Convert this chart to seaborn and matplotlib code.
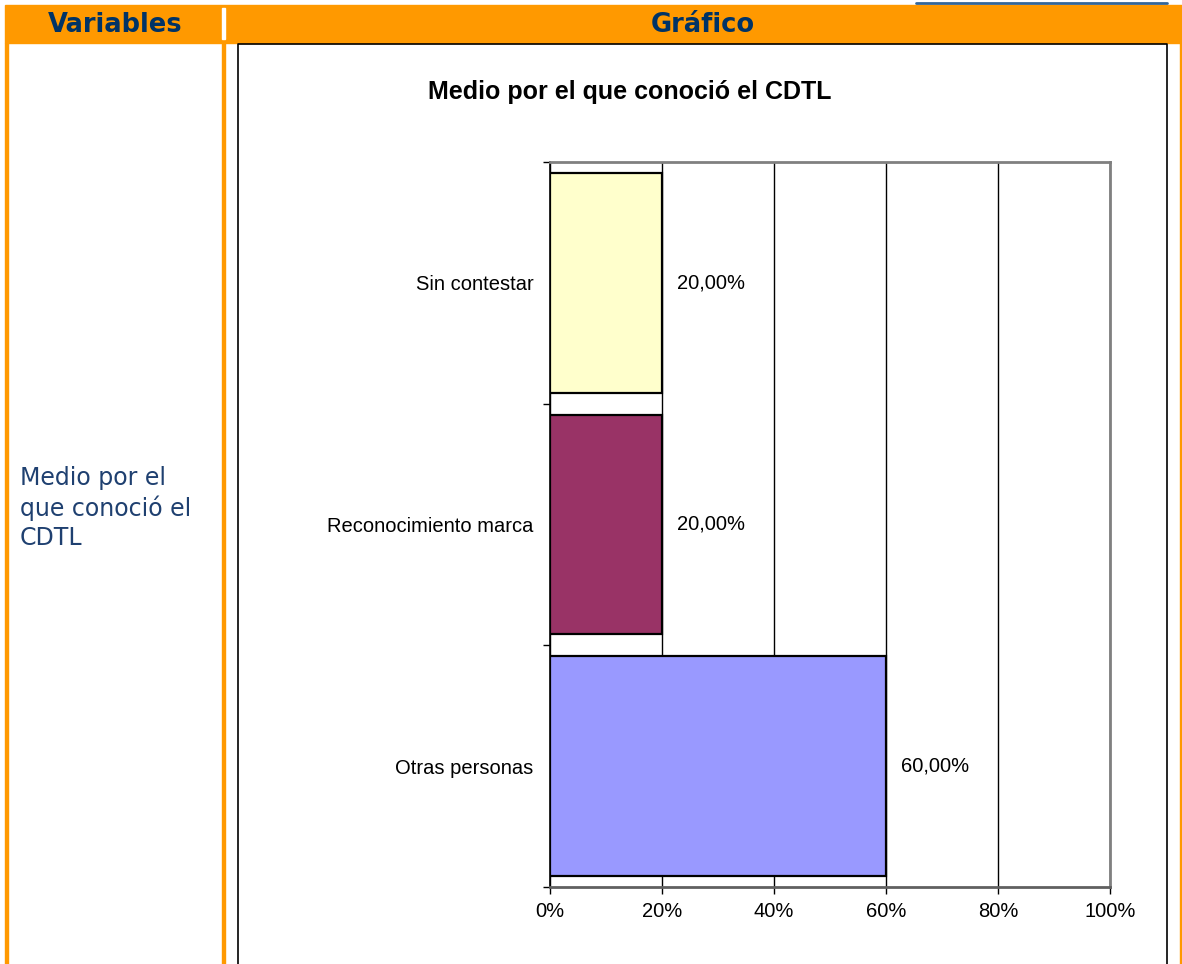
import pandas as pd
import seaborn as sns
import matplotlib.pyplot as plt
from matplotlib.patches import Rectangle
from matplotlib.lines import Line2D

# Datos
categorias = ["Sin contestar", "Reconocimiento marca", "Otras personas"]
valores = [20.0, 20.0, 60.0]
colores = ["#FFFFCC", "#993366", "#9999FF"]
ticks_x = [0, 20, 40, 60, 80, 100]

titulo = "Medio por el que conoció el CDTL"
col_izq = "Variables"
col_der = "Gráfico"
variable = "Medio por el\nque conoció el\nCDTL"

df = pd.DataFrame({"Medio": categorias, "Porcentaje": valores})

sns.set_style("white")
plt.rcParams["font.family"] = ["Liberation Sans", "DejaVu Sans"]
plt.rcParams["text.color"] = "black"
plt.rcParams["xtick.color"] = "black"
plt.rcParams["ytick.color"] = "black"

W, H = 1182, 964
fig = plt.figure(figsize=(W / 100, H / 100), dpi=100, facecolor="white")


def fx(px):
    return px / W


def fy(py):
    return 1 - py / H


# Marco tipo tabla
naranja = "#FF9900"
azul = "#003366"
fig.patches.append(Rectangle((fx(5), fy(43)), fx(1182 - 5), 38 / H,
                             transform=fig.transFigure, color=naranja, zorder=0))
fig.patches.append(Rectangle((fx(222), fy(39)), fx(2.5), 31 / H,
                             transform=fig.transFigure, color="white", zorder=1))
for x0 in (5, 222, 1180):
    fig.patches.append(Rectangle((fx(x0), 0), fx(3), fy(43),
                                 transform=fig.transFigure, color=naranja, zorder=0))
fig.lines.append(Line2D([fx(916), fx(1167)], [fy(3), fy(3)], transform=fig.transFigure,
                        color="#336699", lw=2))
fig.lines.append(Line2D([fx(238), fx(238), fx(1167), fx(1167)], [0, fy(44), fy(44), 0],
                        transform=fig.transFigure, color="black", lw=1.2))

fig.text(fx(115), fy(25), col_izq, ha="center", va="center", fontsize=18.5,
         fontweight="bold", color=azul, family="DejaVu Sans")
fig.text(fx(703), fy(25), col_der, ha="center", va="center", fontsize=18.5,
         fontweight="bold", color=azul, family="DejaVu Sans")
fig.text(fx(20), fy(508), variable, ha="left", va="center", fontsize=17,
         color="#1F4070", family="DejaVu Sans", linespacing=1.25)

fig.text(fx(630), fy(92), titulo, ha="center", va="center", fontsize=18,
         fontweight="bold", color="black")

# Gráfico
ax = fig.add_axes([fx(550), 1 - 887 / H, fx(560), 725 / H])
ax.set_facecolor("white")
sns.barplot(data=df, y="Medio", x="Porcentaje", hue="Medio",
            palette=dict(zip(categorias, colores)), order=categorias,
            orient="h", width=0.91, edgecolor="black", linewidth=1.6,
            saturation=1, legend=False, ax=ax)

for cont, v in zip(ax.containers, valores):
    ax.bar_label(cont, labels=[f"{v:.2f}%".replace(".", ",")], padding=11,
                 fontsize=14.5, color="black")

ax.set_xlim(0, 100)
ax.set_ylim(len(categorias) - 0.5, -0.5)
ax.set_xticks(ticks_x)
ax.set_xticklabels([f"{t}%" for t in ticks_x], fontsize=14.5)
ax.set_yticks(range(len(categorias)))
ax.set_yticklabels(categorias, fontsize=14.5)
ax.set_yticks([i - 0.5 for i in range(len(categorias) + 1)], minor=True)
ax.tick_params(axis="y", which="major", length=0, pad=12)
ax.tick_params(axis="y", which="minor", length=5, width=1, color="black", left=True)
ax.tick_params(axis="x", length=5, width=1, color="black", bottom=True, pad=6)
ax.set_xlabel("")
ax.set_ylabel("")

ax.xaxis.grid(True, color="black", lw=1)
ax.set_axisbelow(True)
for lado in ("top", "right"):
    ax.spines[lado].set_color("#808080")
    ax.spines[lado].set_linewidth(2)
ax.spines["bottom"].set_color("#606060")
ax.spines["bottom"].set_linewidth(2)
ax.spines["left"].set_color("black")
ax.spines["left"].set_linewidth(1.2)

fig.savefig("out.png", dpi=100, facecolor="white")
